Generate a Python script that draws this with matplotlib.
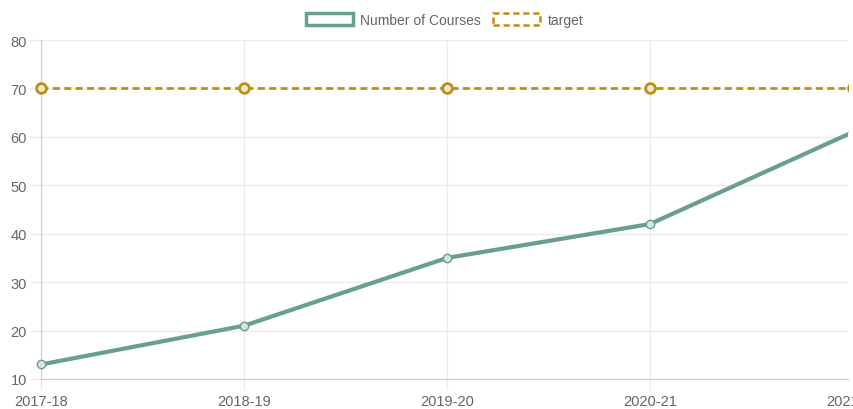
import matplotlib
matplotlib.use("Agg")
import matplotlib.pyplot as plt
from matplotlib.patches import Patch, Rectangle
from matplotlib.transforms import blended_transform_factory

years = ["2017-18", "2018-19", "2019-20", "2020-21", "2021-22"]
courses = [13, 21, 35, 42, 61]
target = [70, 70, 70, 70, 70]

green = "#68a08b"
gold = "#c08e12"
grid_col = "#ebebeb"
text_col = "#666666"

plt.rcParams["font.family"] = ["Liberation Sans", "DejaVu Sans"]

fig = plt.figure(figsize=(8.54, 4.10), dpi=100)
# plot area is cut at the right edge, the last category sits just outside
ax = fig.add_axes([41 / 854, 30 / 410, 807 / 854, 339 / 410])

x = list(range(len(years)))
l1, = ax.plot(x, courses, color=green, lw=3, marker="o", ms=6, mfc="#d6e6df",
              mec=green, mew=1, zorder=3)
l2, = ax.plot(x, target, color=gold, lw=2, ls=(0, (2.5, 1.6)), marker="o", ms=7,
              mfc="#f3ead3", mec=gold, mew=2, zorder=3)

# clip only on the right side so the first markers stay whole
clip = Rectangle((0, 0), 848 / 854, 1, transform=fig.transFigure, visible=False)
fig.add_artist(clip)
for ln in (l1, l2):
    ln.set_clip_path(clip)

ax.set_xlim(0, 807 / 203)
ax.set_ylim(10, 80)
ax.set_xticks(x[:-1])
ax.set_xticklabels(years[:-1])
ax.set_yticks(range(10, 81, 10))

# last label, only partly visible like in the original
trans = blended_transform_factory(ax.transData, ax.transAxes)
ax.text(x[-1], -15.3 / 339, years[-1], transform=trans, ha="center", va="top",
        fontsize=10.5, color=text_col, clip_on=False)

ax.grid(True, color=grid_col, lw=1)
ax.set_axisbelow(True)
for s in ["top", "right"]:
    ax.spines[s].set_visible(False)
for s in ["left", "bottom"]:
    ax.spines[s].set_color("#cccccc")
ax.tick_params(axis="both", colors=grid_col, labelcolor=text_col, labelsize=10.5,
               length=8, width=1)
ax.tick_params(axis="x", pad=3)
ax.tick_params(axis="y", pad=2)

handles = [
    Patch(facecolor="white", edgecolor=green, lw=2.5, label="Number of Courses"),
    Patch(facecolor="white", edgecolor=gold, lw=1.8, ls=(0, (2.5, 1.5)), label="target"),
]
leg = fig.legend(handles=handles, loc="center",
                 bbox_to_anchor=(444.5 / 854, 1 - 21 / 410),
                 ncol=2, frameon=False, fontsize=10, handlelength=3.4,
                 handleheight=0.9, columnspacing=0.9, handletextpad=0.5)
for t in leg.get_texts():
    t.set_color(text_col)

fig.savefig("out.png", dpi=100)
